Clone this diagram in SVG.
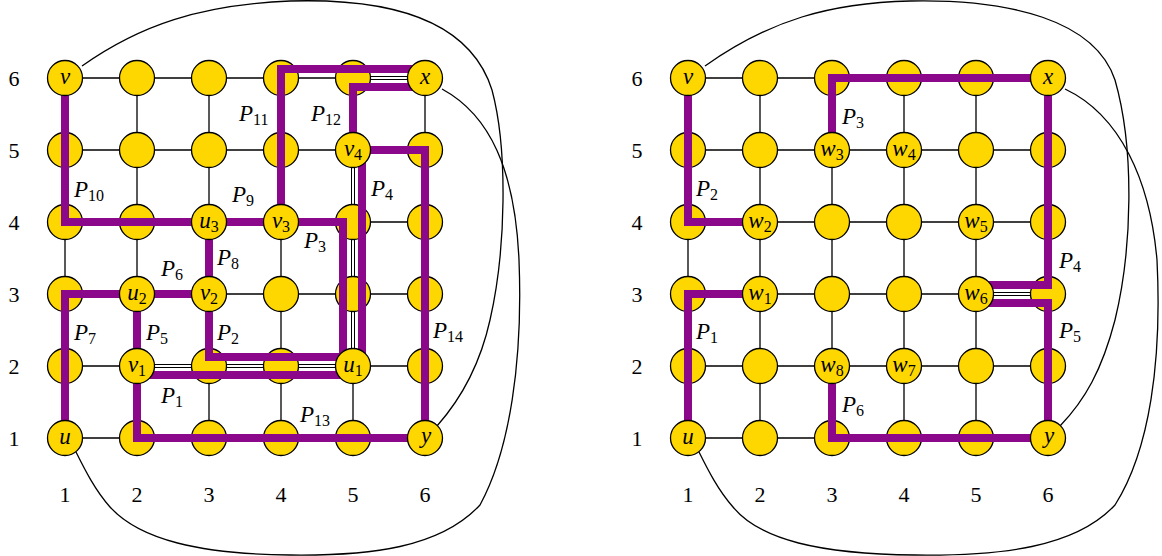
<svg xmlns="http://www.w3.org/2000/svg" width="1162" height="556" viewBox="0 0 1162 556">
<style>
.e{stroke:#000;stroke-width:1.3;fill:none}
.dw{stroke:#fff;stroke-width:4;fill:none}
.dl{stroke:#000;stroke-width:1;fill:none}
.p{stroke:#8B088B;stroke-width:8;fill:none;stroke-linejoin:miter;stroke-linecap:butt}
.n circle{fill:#FFD700;stroke:#000;stroke-width:1.3}
text{font-family:"Liberation Serif","DejaVu Serif",serif;fill:#000}
.m{font-size:23px;font-style:italic;text-anchor:middle}
.s{font-size:16px;font-style:normal}
.pl{font-size:23px;font-style:italic}
.ax{font-size:22px;text-anchor:middle}
</style>
<rect width="1162" height="556" fill="#fff"/>
<g id="axes">
<text class="ax" x="14" y="86">6</text><text class="ax" x="14" y="158">5</text><text class="ax" x="14" y="230">4</text><text class="ax" x="14" y="302">3</text><text class="ax" x="14" y="374">2</text><text class="ax" x="14" y="446">1</text>
<text class="ax" x="65" y="502">1</text><text class="ax" x="137" y="502">2</text><text class="ax" x="209" y="502">3</text><text class="ax" x="281" y="502">4</text><text class="ax" x="353" y="502">5</text><text class="ax" x="425" y="502">6</text>
<text class="ax" x="637" y="86">6</text><text class="ax" x="637" y="158">5</text><text class="ax" x="637" y="230">4</text><text class="ax" x="637" y="302">3</text><text class="ax" x="637" y="374">2</text><text class="ax" x="637" y="446">1</text>
<text class="ax" x="688" y="502">1</text><text class="ax" x="760" y="502">2</text><text class="ax" x="832" y="502">3</text><text class="ax" x="904" y="502">4</text><text class="ax" x="976" y="502">5</text><text class="ax" x="1048" y="502">6</text>
</g>
<g id="connectors">
<path class="e" d="M65,78H425M65,150H425M65,222H425M65,294H425M65,366H425M65,438H425M65,78V438M137,78V438M209,78V438M281,78V438M353,78V438M425,78V438"/>
<path class="e" d="M688,78H1048M688,150H1048M688,222H1048M688,294H1048M688,366H1048M688,438H1048M688,78V438M760,78V438M832,78V438M904,78V438M976,78V438M1048,78V438"/>
<path class="dw" d="M369,78H409M353,166V206M353,238V278M353,310V350M153,366H193M225,366H265M297,366H337M992,294H1032"/>
<path class="dl" d="M369,76.5H409M369,79.5H409M351.5,166V206M354.5,166V206M351.5,238V278M354.5,238V278M351.5,310V350M354.5,310V350M153,364.5H193M153,367.5H193M225,364.5H265M225,367.5H265M297,364.5H337M297,367.5H337M992,292.5H1032M992,295.5H1032"/>
<path class="e" d="M82,66C140,25 200,5 290,1C390,-2 470,20 492,90C508,150 506,250 490,320C480,365 460,400 437,426"/>
<path class="e" d="M442,89C490,115 515,170 519,260C523,360 510,450 480,505C440,548 370,556 290,555C200,554 140,540 110,507C95,490 85,470 76,452"/>
<path class="e" d="M705,66C770,20 830,3 910,1C1010,-1 1095,20 1115,80C1135,150 1132,250 1115,320C1102,370 1085,400 1060,426"/>
<path class="e" d="M1065,89C1120,115 1150,180 1157,260C1162,360 1150,450 1115,505C1075,548 1000,556 915,555C820,554 760,540 733,507C718,490 708,470 699,452"/>
</g>
<g id="plain-nodes" class="n">
<g id="L26"><circle cx="137" cy="78" r="17.5"/></g><g id="L36"><circle cx="209" cy="78" r="17.5"/></g><g id="L46"><circle cx="281" cy="78" r="17.5"/></g><g id="L56"><circle cx="353" cy="78" r="17.5"/></g>
<g id="L15"><circle cx="65" cy="150" r="17.5"/></g><g id="L25"><circle cx="137" cy="150" r="17.5"/></g><g id="L35"><circle cx="209" cy="150" r="17.5"/></g><g id="L45"><circle cx="281" cy="150" r="17.5"/></g><g id="L65"><circle cx="425" cy="150" r="17.5"/></g>
<g id="L14"><circle cx="65" cy="222" r="17.5"/></g><g id="L24"><circle cx="137" cy="222" r="17.5"/></g><g id="L54"><circle cx="353" cy="222" r="17.5"/></g><g id="L64"><circle cx="425" cy="222" r="17.5"/></g>
<g id="L13"><circle cx="65" cy="294" r="17.5"/></g><g id="L43"><circle cx="281" cy="294" r="17.5"/></g><g id="L53"><circle cx="353" cy="294" r="17.5"/></g><g id="L63"><circle cx="425" cy="294" r="17.5"/></g>
<g id="L12"><circle cx="65" cy="366" r="17.5"/></g><g id="L32"><circle cx="209" cy="366" r="17.5"/></g><g id="L42"><circle cx="281" cy="366" r="17.5"/></g><g id="L62"><circle cx="425" cy="366" r="17.5"/></g>
<g id="L21"><circle cx="137" cy="438" r="17.5"/></g><g id="L31"><circle cx="209" cy="438" r="17.5"/></g><g id="L41"><circle cx="281" cy="438" r="17.5"/></g><g id="L51"><circle cx="353" cy="438" r="17.5"/></g>
<g id="R26"><circle cx="760" cy="78" r="17.5"/></g><g id="R36"><circle cx="832" cy="78" r="17.5"/></g><g id="R46"><circle cx="904" cy="78" r="17.5"/></g><g id="R56"><circle cx="976" cy="78" r="17.5"/></g>
<g id="R15"><circle cx="688" cy="150" r="17.5"/></g><g id="R25"><circle cx="760" cy="150" r="17.5"/></g><g id="R55"><circle cx="976" cy="150" r="17.5"/></g><g id="R65"><circle cx="1048" cy="150" r="17.5"/></g>
<g id="R14"><circle cx="688" cy="222" r="17.5"/></g><g id="R34"><circle cx="832" cy="222" r="17.5"/></g><g id="R44"><circle cx="904" cy="222" r="17.5"/></g><g id="R64"><circle cx="1048" cy="222" r="17.5"/></g>
<g id="R13"><circle cx="688" cy="294" r="17.5"/></g><g id="R33"><circle cx="832" cy="294" r="17.5"/></g><g id="R43"><circle cx="904" cy="294" r="17.5"/></g><g id="R63"><circle cx="1048" cy="294" r="17.5"/></g>
<g id="R12"><circle cx="688" cy="366" r="17.5"/></g><g id="R22"><circle cx="760" cy="366" r="17.5"/></g><g id="R52"><circle cx="976" cy="366" r="17.5"/></g><g id="R62"><circle cx="1048" cy="366" r="17.5"/></g>
<g id="R21"><circle cx="760" cy="438" r="17.5"/></g><g id="R31"><circle cx="832" cy="438" r="17.5"/></g><g id="R41"><circle cx="904" cy="438" r="17.5"/></g><g id="R51"><circle cx="976" cy="438" r="17.5"/></g>
</g>
<g id="paths">
<path class="p" d="M65,78V222H343V357H209V222"/>
<path class="p" d="M65,438V294H209"/>
<path class="p" d="M137,294V366"/>
<path class="p" d="M137,366V438H425"/>
<path class="p" d="M137,375H353"/>
<path class="p" d="M362,150V366"/>
<path class="p" d="M425,438V150H353"/>
<path class="p" d="M281,222V69H425"/>
<path class="p" d="M353,150V87H425"/>
<path class="p" d="M688,78V222H760"/>
<path class="p" d="M688,438V294H760"/>
<path class="p" d="M832,150V78H1048"/>
<path class="p" d="M1048,78V285H976"/>
<path class="p" d="M976,303H1048V438"/>
<path class="p" d="M832,366V438H1048"/>
</g>
<g id="path-labels">
<text class="pl" x="239" y="121">P<tspan class="s" dy="4">11</tspan></text>
<text class="pl" x="311" y="121">P<tspan class="s" dy="4">12</tspan></text>
<text class="pl" x="74" y="197">P<tspan class="s" dy="4">10</tspan></text>
<text class="pl" x="232" y="202">P<tspan class="s" dy="4">9</tspan></text>
<text class="pl" x="371" y="196">P<tspan class="s" dy="4">4</tspan></text>
<text class="pl" x="304" y="248">P<tspan class="s" dy="4">3</tspan></text>
<text class="pl" x="217" y="265">P<tspan class="s" dy="4">8</tspan></text>
<text class="pl" x="161" y="276">P<tspan class="s" dy="4">6</tspan></text>
<text class="pl" x="74" y="340">P<tspan class="s" dy="4">7</tspan></text>
<text class="pl" x="146" y="340">P<tspan class="s" dy="4">5</tspan></text>
<text class="pl" x="217" y="340">P<tspan class="s" dy="4">2</tspan></text>
<text class="pl" x="433" y="338">P<tspan class="s" dy="4">14</tspan></text>
<text class="pl" x="161" y="403">P<tspan class="s" dy="4">1</tspan></text>
<text class="pl" x="300" y="422">P<tspan class="s" dy="4">13</tspan></text>
<text class="pl" x="842" y="124">P<tspan class="s" dy="4">3</tspan></text>
<text class="pl" x="696" y="196">P<tspan class="s" dy="4">2</tspan></text>
<text class="pl" x="1059" y="268">P<tspan class="s" dy="4">4</tspan></text>
<text class="pl" x="696" y="339">P<tspan class="s" dy="4">1</tspan></text>
<text class="pl" x="1059" y="338">P<tspan class="s" dy="4">5</tspan></text>
<text class="pl" x="842" y="412">P<tspan class="s" dy="4">6</tspan></text>
</g>
<g id="labelled-nodes" class="n">
<g id="L-v"><circle cx="65" cy="78" r="17.5"/><text class="m" x="65" y="84">v</text></g>
<g id="L-x"><circle cx="425" cy="78" r="17.5"/><text class="m" x="425" y="84">x</text></g>
<g id="L-u"><circle cx="65" cy="438" r="17.5"/><text class="m" x="65" y="444">u</text></g>
<g id="L-y"><circle cx="425" cy="438" r="17.5"/><text class="m" x="426" y="443">y</text></g>
<g id="L-u1"><circle cx="353" cy="366" r="17.5"/><text class="m" x="353" y="372">u<tspan class="s" dy="3.5">1</tspan></text></g>
<g id="L-u2"><circle cx="137" cy="294" r="17.5"/><text class="m" x="137" y="300">u<tspan class="s" dy="3.5">2</tspan></text></g>
<g id="L-u3"><circle cx="209" cy="222" r="17.5"/><text class="m" x="209" y="228">u<tspan class="s" dy="3.5">3</tspan></text></g>
<g id="L-v1"><circle cx="137" cy="366" r="17.5"/><text class="m" x="137" y="372">v<tspan class="s" dy="3.5">1</tspan></text></g>
<g id="L-v2"><circle cx="209" cy="294" r="17.5"/><text class="m" x="209" y="300">v<tspan class="s" dy="3.5">2</tspan></text></g>
<g id="L-v3"><circle cx="281" cy="222" r="17.5"/><text class="m" x="281" y="228">v<tspan class="s" dy="3.5">3</tspan></text></g>
<g id="L-v4"><circle cx="353" cy="150" r="17.5"/><text class="m" x="353" y="156">v<tspan class="s" dy="3.5">4</tspan></text></g>
<g id="R-v"><circle cx="688" cy="78" r="17.5"/><text class="m" x="688" y="84">v</text></g>
<g id="R-x"><circle cx="1048" cy="78" r="17.5"/><text class="m" x="1048" y="84">x</text></g>
<g id="R-u"><circle cx="688" cy="438" r="17.5"/><text class="m" x="688" y="444">u</text></g>
<g id="R-y"><circle cx="1048" cy="438" r="17.5"/><text class="m" x="1049" y="443">y</text></g>
<g id="R-w1"><circle cx="760" cy="294" r="17.5"/><text class="m" x="760" y="300">w<tspan class="s" dy="3.5">1</tspan></text></g>
<g id="R-w2"><circle cx="760" cy="222" r="17.5"/><text class="m" x="760" y="228">w<tspan class="s" dy="3.5">2</tspan></text></g>
<g id="R-w3"><circle cx="832" cy="150" r="17.5"/><text class="m" x="832" y="156">w<tspan class="s" dy="3.5">3</tspan></text></g>
<g id="R-w4"><circle cx="904" cy="150" r="17.5"/><text class="m" x="904" y="156">w<tspan class="s" dy="3.5">4</tspan></text></g>
<g id="R-w5"><circle cx="976" cy="222" r="17.5"/><text class="m" x="976" y="228">w<tspan class="s" dy="3.5">5</tspan></text></g>
<g id="R-w6"><circle cx="976" cy="294" r="17.5"/><text class="m" x="976" y="300">w<tspan class="s" dy="3.5">6</tspan></text></g>
<g id="R-w7"><circle cx="904" cy="366" r="17.5"/><text class="m" x="904" y="372">w<tspan class="s" dy="3.5">7</tspan></text></g>
<g id="R-w8"><circle cx="832" cy="366" r="17.5"/><text class="m" x="832" y="372">w<tspan class="s" dy="3.5">8</tspan></text></g>
</g>
</svg>
